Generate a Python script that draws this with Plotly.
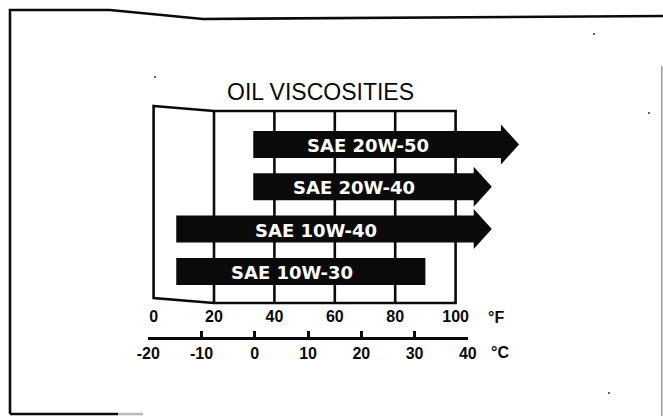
import plotly.graph_objects as go

# ---- data -------------------------------------------------------------
grades = ["SAE 20W-50", "SAE 20W-40", "SAE 10W-40", "SAE 10W-30"]
low_f = [33, 33, 7.5, 7.5]          # lowest ambient temperature, deg F
high_f = [115, 106, 106, 90]        # end of the shaft, deg F
open_ended = [True, True, True, False]  # arrow = usable above the end

f_ticks = [0, 20, 40, 60, 80, 100]
c_ticks = [-20, -10, 0, 10, 20, 30, 40]

# ---- geometry / style --------------------------------------------------
W, H = 663, 416
F0_PX, PX_PER_F = 153.6, 3.02        # deg F scale
C0_PX, PX_PER_C = 254.8, 5.326       # deg C scale
ROW_TOP, ROW_STEP = 144.5, 42.3
SHAFT_HALF, HEAD_HALF, HEAD_LEN = 13.5, 20, 6
LW = 2.6
INK = "#0a0a0a"
CLEAR = "rgba(0,0,0,0)"

f_range = [-F0_PX / PX_PER_F, (W - F0_PX) / PX_PER_F]


def fx(px):
    return px / W


def fy(py):
    return 1 - py / H


fig = go.Figure()

# bars with arrow heads
for i, (name, lo, hi, arrow) in enumerate(zip(grades, low_f, high_f, open_ended)):
    yc = ROW_TOP + i * ROW_STEP
    if arrow:
        xs = [lo, hi, hi, hi + HEAD_LEN, hi, hi, lo, lo]
        ys = [yc - SHAFT_HALF, yc - SHAFT_HALF, yc - HEAD_HALF, yc,
              yc + HEAD_HALF, yc + SHAFT_HALF, yc + SHAFT_HALF, yc - SHAFT_HALF]
    else:
        xs = [lo, hi, hi, lo, lo]
        ys = [yc - SHAFT_HALF, yc - SHAFT_HALF, yc + SHAFT_HALF,
              yc + SHAFT_HALF, yc - SHAFT_HALF]
    fig.add_trace(go.Scatter(
        x=xs, y=ys, mode="lines", fill="toself", fillcolor=INK,
        line=dict(width=0, color=INK), hoverinfo="skip", showlegend=False,
        xaxis="x", yaxis="y"))
    fig.add_annotation(
        x=(lo + hi) / 2 - 3, y=yc + 1, xref="x", yref="y", text=name,
        showarrow=False, xanchor="center", yanchor="middle",
        font=dict(family="DejaVu Sans", size=18, color="white", weight="bold"))

# invisible anchors so the scale axes get drawn
fig.add_trace(go.Scatter(x=f_ticks, y=[0] * len(f_ticks), mode="markers",
                         marker=dict(opacity=0), hoverinfo="skip",
                         showlegend=False, xaxis="x2", yaxis="y"))
fig.add_trace(go.Scatter(x=c_ticks, y=[0] * len(c_ticks), mode="markers",
                         marker=dict(opacity=0), hoverinfo="skip",
                         showlegend=False, xaxis="x3", yaxis="y"))

shapes = []
line = dict(color=INK, width=LW)

# chart box with the slanted first cell
BOX_TOP_L, BOX_TOP, BOX_BOT_L, BOX_BOT = 106, 111, 298, 303
shapes.append(dict(type="path", xref="x", yref="y", layer="below", line=line,
                   path=f"M {f_ticks[0]},{BOX_TOP_L} L {f_ticks[1]},{BOX_TOP} "
                        f"L {f_ticks[-1]},{BOX_TOP} L {f_ticks[-1]},{BOX_BOT} "
                        f"L {f_ticks[1]},{BOX_BOT} L {f_ticks[0]},{BOX_BOT_L} Z"))
for t in f_ticks[1:-1]:
    shapes.append(dict(type="line", xref="x", yref="y", layer="below",
                       x0=t, x1=t, y0=BOX_TOP, y1=BOX_BOT, line=line))

# outer frame of the page
frame = [(10, 414), (10, 10), (110, 10), (203, 19), (663, 16)]
shapes.append(dict(type="path", xref="paper", yref="paper", line=line,
                   path="M " + " L ".join(f"{fx(a)},{fy(b)}" for a, b in frame)))
shapes.append(dict(type="line", xref="paper", yref="paper",
                   x0=fx(10), x1=fx(118), y0=fy(414), y1=fy(414), line=line))
shapes.append(dict(type="line", xref="paper", yref="paper",
                   x0=fx(118), x1=fx(143), y0=fy(414), y1=fy(414),
                   line=dict(color="#bbbbbb", width=LW)))
shapes.append(dict(type="line", xref="paper", yref="paper",
                   x0=fx(661.8), x1=fx(661.8), y0=fy(66), y1=fy(416),
                   line=dict(color="#9a9a9a", width=1.5)))

# a few specks
for a, b in [(594, 34), (649, 113), (609, 393), (155, 77)]:
    shapes.append(dict(type="circle", xref="paper", yref="paper",
                       x0=fx(a - 1), x1=fx(a + 1), y0=fy(b - 1), y1=fy(b + 1),
                       fillcolor="#333333", line=dict(width=0)))

fig.update_layout(shapes=shapes)

# title and unit labels
fig.add_annotation(x=fx(320), y=fy(92), xref="paper", yref="paper",
                   text="OIL VISCOSITIES", showarrow=False,
                   xanchor="center", yanchor="middle",
                   font=dict(family="Liberation Sans", size=23, color=INK))
tick_font = dict(family="Liberation Sans", size=16, color=INK, weight="bold")
fig.add_annotation(x=fx(496), y=fy(317), xref="paper", yref="paper",
                   text="°F", showarrow=False, xanchor="center",
                   yanchor="middle", font=tick_font)
fig.add_annotation(x=fx(500), y=fy(352), xref="paper", yref="paper",
                   text="°C", showarrow=False, xanchor="center",
                   yanchor="middle", font=tick_font)

fig.update_layout(
    width=W, height=H,
    margin=dict(l=0, r=0, t=0, b=0, pad=0, autoexpand=False),
    paper_bgcolor="white", plot_bgcolor=CLEAR,
    xaxis=dict(range=f_range, visible=False, fixedrange=True,
               automargin=False),
    yaxis=dict(range=[H, 0], visible=False, fixedrange=True,
               automargin=False),
    # deg F scale: labels only
    xaxis2=dict(
        domain=[fx(F0_PX), fx(F0_PX + 100 * PX_PER_F)],
        range=[f_ticks[0], f_ticks[-1]], anchor="free", position=fy(305),
        showline=False, showgrid=False, zeroline=False, ticks="",
        tickvals=f_ticks, ticktext=[str(t) for t in f_ticks],
        tickfont=tick_font, fixedrange=True, automargin=False),
    # deg C scale: bracket line with upward ticks
    xaxis3=dict(
        domain=[fx(C0_PX + c_ticks[0] * PX_PER_C),
                fx(C0_PX + c_ticks[-1] * PX_PER_C)],
        range=[c_ticks[0], c_ticks[-1]], anchor="free", position=fy(338),
        showline=True, linecolor=INK, linewidth=LW,
        showgrid=False, zeroline=False,
        ticks="inside", ticklen=6, tickwidth=LW, tickcolor=INK,
        tickvals=c_ticks, ticktext=[str(t) for t in c_ticks],
        ticklabelstandoff=0,
        tickfont=tick_font, fixedrange=True, automargin=False),
)

fig.write_html("out.html")
